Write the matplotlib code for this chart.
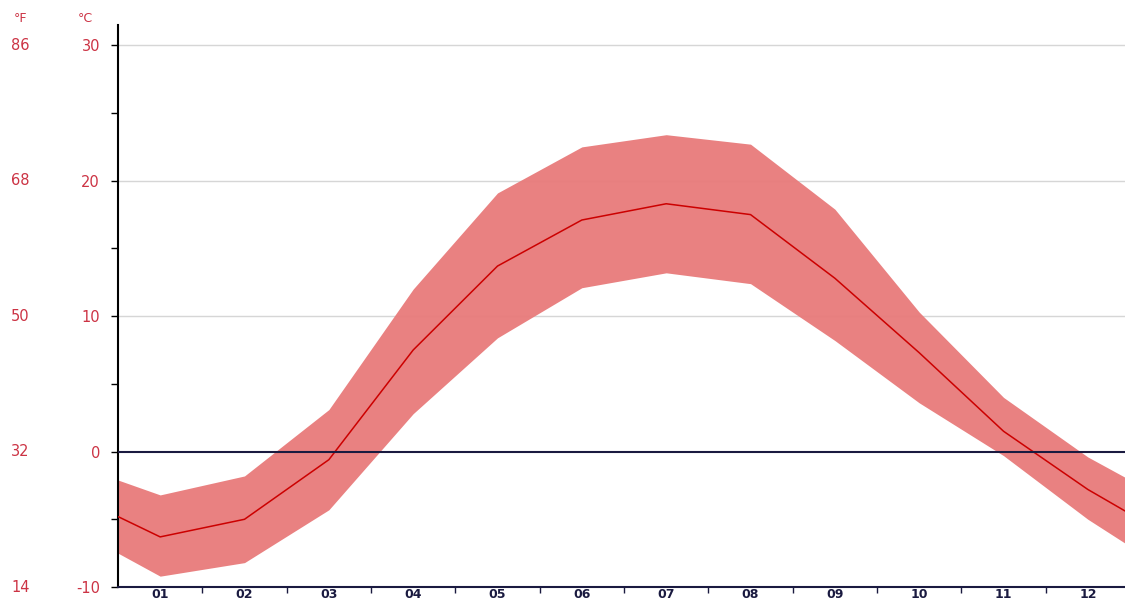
import numpy as np
import matplotlib.pyplot as plt
from matplotlib.transforms import blended_transform_factory

# months, with the half-month wrap points at both ends
months = [0.5, 1, 2, 3, 4, 5, 6, 7, 8, 9, 10, 11, 12, 12.5]
t_mean = [-4.8, -6.3, -5.0, -0.6, 7.5, 13.7, 17.1, 18.3, 17.5, 12.8, 7.3, 1.5, -2.8, -4.6]
t_high = [-2.1, -3.2, -1.8, 3.1, 12.0, 19.1, 22.5, 23.4, 22.7, 17.9, 10.3, 4.0, -0.4, -2.1]
t_low = [-7.5, -9.2, -8.2, -4.3, 2.8, 8.4, 12.1, 13.2, 12.4, 8.2, 3.6, -0.3, -5.0, -7.0]

month_labels = ['01', '02', '03', '04', '05', '06', '07', '08', '09', '10', '11', '12']
c_ticks = [-10, 0, 10, 20, 30]
f_labels = ['14', '32', '50', '68', '86']

red = '#cc3344'
navy = '#1a1a40'

fig = plt.figure(figsize=(11.25, 6.02), dpi=100)
ax = fig.add_axes([118 / 1125, 15 / 602, 1 - 118 / 1125, 562 / 602])

ax.fill_between(months, t_low, t_high, color='#e87a7a', alpha=0.95, lw=0, zorder=2)
ax.plot(months, t_mean, color='#cc0000', lw=1.1, zorder=3)

for c in [10, 20, 30]:
    ax.axhline(c, color='#d6d6d6', lw=1, zorder=1)
ax.axhline(0, color=navy, lw=1.5, zorder=4)

ax.set_xlim(0.5, 12.44)
ax.set_ylim(-10, 31.5)

ax.set_yticks(c_ticks)
ax.set_yticks([-5, 5, 15, 25], minor=True)
ax.set_yticklabels([str(c) for c in c_ticks], color=red, fontsize=10.5)
ax.tick_params(axis='y', which='both', direction='out', length=5, width=1, color='black', pad=8)

ax.set_xticks(np.arange(1.5, 12.5, 1))
ax.set_xticklabels([])
ax.set_xticks(np.arange(1, 13), minor=True)
ax.set_xticklabels(month_labels, minor=True, color=navy, fontsize=9, fontweight='bold')
ax.tick_params(axis='x', which='major', direction='out', length=4, width=1, color=navy)
ax.tick_params(axis='x', which='minor', length=0, pad=1)

ax.spines['top'].set_visible(False)
ax.spines['right'].set_visible(False)
ax.spines['left'].set_color('black')
ax.spines['left'].set_linewidth(1.5)
ax.spines['bottom'].set_color(navy)
ax.spines['bottom'].set_linewidth(1.5)

trans = blended_transform_factory(fig.transFigure, ax.transData)
for c, f in zip(c_ticks, f_labels):
    ax.text(11 / 1125, c, f, transform=trans, color=red, fontsize=10.5, va='center', ha='left')

fig.text(14 / 1125, 1 - 18 / 602, '°F', color=red, fontsize=9, va='center', ha='left')
fig.text(78 / 1125, 1 - 18 / 602, '°C', color=red, fontsize=9, va='center', ha='left')

fig.savefig('out.png', dpi=100)
